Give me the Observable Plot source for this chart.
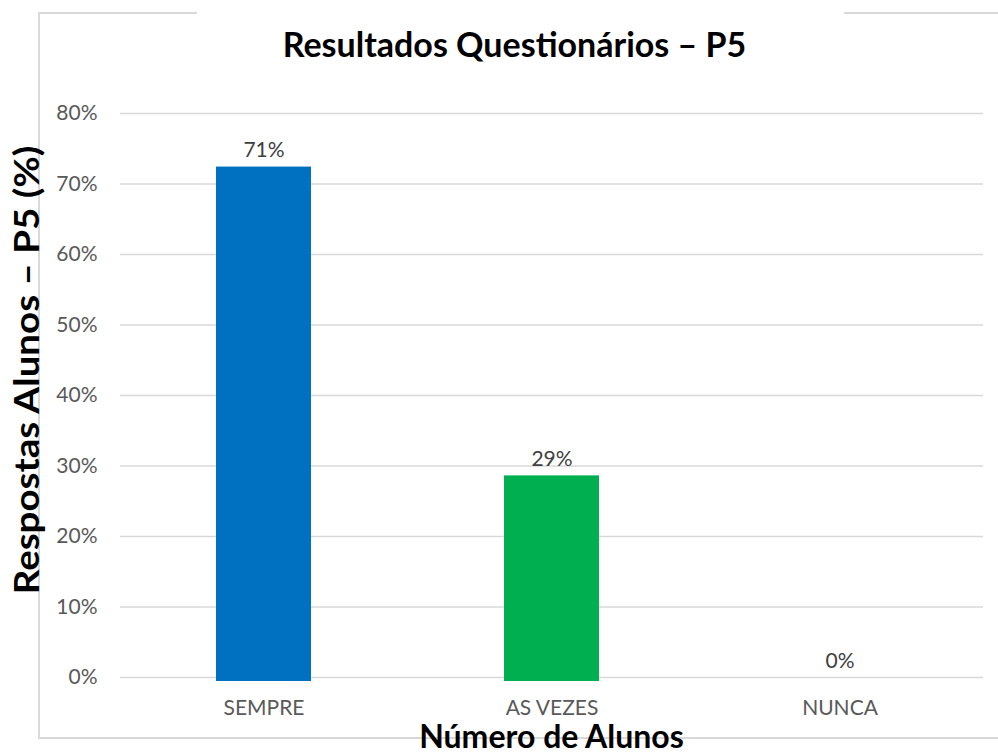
<!DOCTYPE html>
<html>
<head>
<meta charset="utf-8">
<script src="https://cdn.jsdelivr.net/npm/d3@7"></script>
<script src="https://cdn.jsdelivr.net/npm/@observablehq/plot@0.6"></script>
<style>
  html, body { margin: 0; padding: 0; background: #fff; }
  #wrap { position: relative; width: 998px; height: 753px; overflow: hidden; font-family: Lato, "Open Sans", sans-serif; }
  #wrap svg { position: absolute; left: 0; top: 0; }
  .frame-left { position: absolute; left: 38px; top: 13px; width: 0; height: 725px; border-left: 2px solid #d9d9d9; }
  .frame-bottom { position: absolute; left: 38px; top: 737px; width: 970px; height: 0; border-top: 2px solid #d9d9d9; }
  .frame-top1 { position: absolute; left: 38px; top: 12px; width: 159px; height: 0; border-top: 2px solid #d9d9d9; }
  .frame-top2 { position: absolute; left: 844px; top: 12px; width: 170px; height: 0; border-top: 2px solid #d9d9d9; }
  .title { position: absolute; left: 0; width: 1029px; top: 27px; text-align: center; font-weight: bold; font-size: 34px; line-height: 34px; color: #000; white-space: nowrap; }
  .xtitle { position: absolute; left: 120px; width: 863px; top: 720px; text-align: center; font-weight: bold; font-size: 32px; line-height: 32px; color: #000; white-space: nowrap; }
  .ytitle { position: absolute; left: 25px; top: 370px; line-height: 35px; transform: translate(-50%, -50%) rotate(-90deg) scaleX(1.1); font-weight: bold; font-size: 35px; color: #000; white-space: nowrap; }
</style>
</head>
<body>
<div id="wrap"></div>
<script>
const categories = ["SEMPRE", "AS VEZES", "NUNCA"];
const values = [72.4, 28.6, 0];
const valueLabels = ["71%", "29%", "0%"];
const colors = ["#0070C0", "#00B050", "#A5A5A5"];
const yTicks = [0, 10, 20, 30, 40, 50, 60, 70, 80];
const titleText = "Resultados Questionários – P5";
const xTitle = "Número de Alunos";
const yTitle = "Respostas Alunos – P5 (%)";

const data = categories.map((c, i) => ({cat: c, value: values[i], label: valueLabels[i], color: colors[i]}));

const chart = Plot.plot({
  width: 998,
  height: 753,
  marginLeft: 120,
  marginRight: 15,
  marginTop: 113,
  marginBottom: 76,
  style: {fontFamily: "Lato, 'Open Sans', sans-serif", background: "transparent", color: "#595959"},
  x: {domain: categories, paddingInner: 0.67, paddingOuter: 0.33, label: null},
  y: {domain: [0, 80], label: null},
  marks: [
    Plot.ruleY(yTicks, {stroke: "#d9d9d9", strokeWidth: 1.5}),
    Plot.barY(data.filter(d => d.value > 0), {x: "cat", y: "value", fill: "color", insetBottom: -4}),
    Plot.text(data, {x: "cat", y: "value", text: "label", dy: -10, lineAnchor: "bottom", fontSize: 21, fill: "#404040"}),
    Plot.axisY({ticks: yTicks, tickFormat: d => d + "%", tickSize: 0, tickPadding: 23, fontSize: 21, label: null}),
    Plot.axisX({tickSize: 0, tickPadding: 23, fontSize: 21, label: null})
  ]
});

const wrap = document.getElementById("wrap");
wrap.appendChild(chart);
for (const cls of ["frame-left", "frame-bottom", "frame-top1", "frame-top2"]) {
  const d = document.createElement("div"); d.className = cls; wrap.appendChild(d);
}
const t = document.createElement("div"); t.className = "title"; t.textContent = titleText; wrap.appendChild(t);
const xt = document.createElement("div"); xt.className = "xtitle"; xt.textContent = xTitle; wrap.appendChild(xt);
const yt = document.createElement("div"); yt.className = "ytitle"; yt.textContent = yTitle; wrap.appendChild(yt);
</script>
</body>
</html>
